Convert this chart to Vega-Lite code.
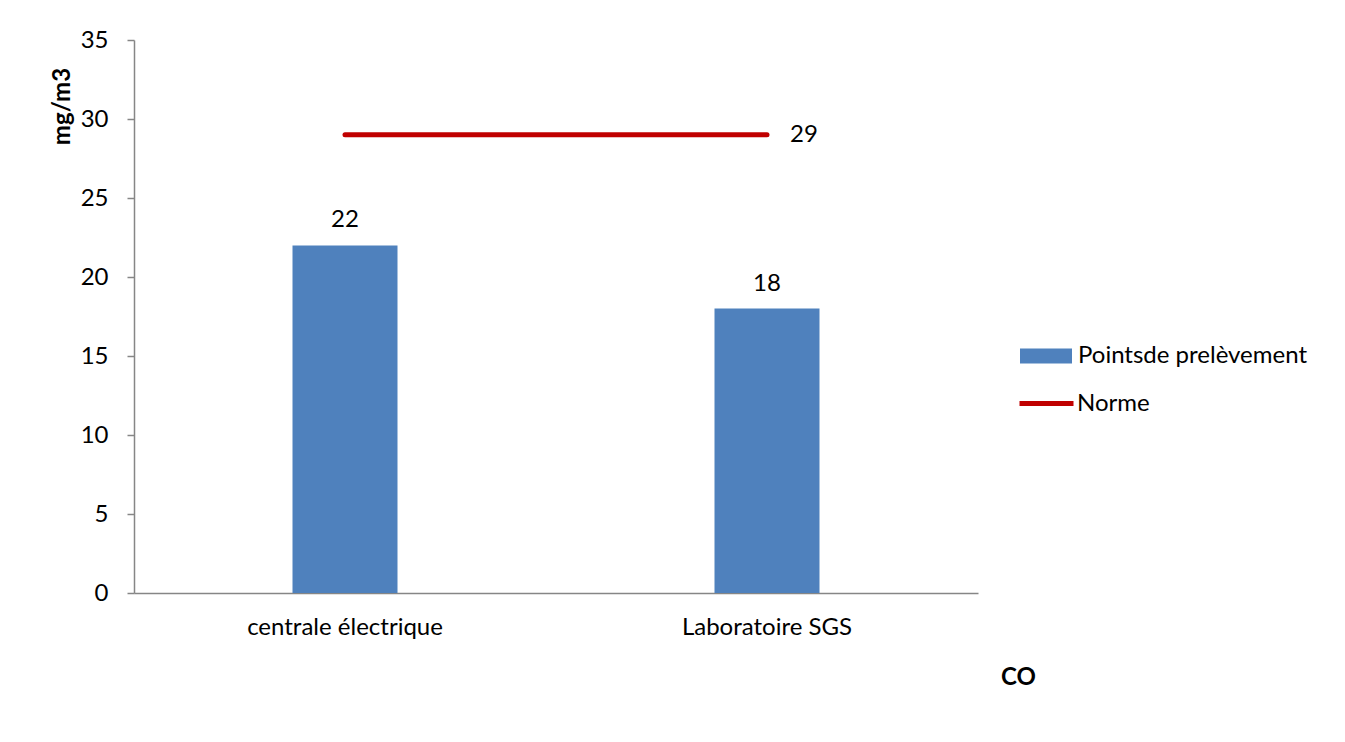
{
  "$schema": "https://vega.github.io/schema/vega-lite/v6.json",
  "width": 844,
  "height": 553,
  "autosize": {"type": "none"},
  "padding": {"left": 134, "top": 40, "right": 367, "bottom": 149},
  "background": "white",
  "config": {
    "font": "Lato",
    "view": {"stroke": null},
    "axis": {"labelColor": "#000000", "titleColor": "#000000", "labelFont": "Lato", "titleFont": "Lato"},
    "legend": {"labelFont": "Lato", "labelColor": "#000000", "labelLimit": 0}
  },
  "data": {
    "values": [
      {"site": "centrale électrique", "valeur": 22, "norme": 29, "serie": "Pointsde prelèvement", "serieNorme": "Norme"},
      {"site": "Laboratoire SGS", "valeur": 18, "norme": 29, "serie": "Pointsde prelèvement", "serieNorme": "Norme"}
    ]
  },
  "encoding": {
    "x": {
      "field": "site",
      "type": "nominal",
      "sort": null,
      "scale": {"paddingInner": 0, "paddingOuter": 0},
      "axis": {
        "title": "CO",
        "titleFontSize": 24,
        "titleFontWeight": "bold",
        "titleX": 884,
        "titleY": 84,
        "titleAlign": "center",
        "titleBaseline": "middle",
        "labelAngle": 0,
        "labelFontSize": 24,
        "labelLimit": 0,
        "labelPadding": 22,
        "ticks": false,
        "domainColor": "#868686",
        "domainWidth": 1.5
      }
    }
  },
  "layer": [
    {
      "mark": {"type": "bar", "size": 105},
      "encoding": {
        "y": {
          "field": "valeur",
          "type": "quantitative",
          "scale": {"domain": [0, 35], "nice": false},
          "axis": {
            "title": "mg/m3",
            "titleFontSize": 24,
            "titleFontWeight": "bold",
            "titleAngle": -90,
            "titleX": -72,
            "titleY": 66,
            "titleAlign": "center",
            "titleBaseline": "middle",
            "values": [0, 5, 10, 15, 20, 25, 30, 35],
            "grid": false,
            "labelFontSize": 24,
            "labelPadding": 19,
            "tickSize": 7,
            "tickColor": "#868686",
            "domainColor": "#868686",
            "domainWidth": 1.5,
            "tickWidth": 1.5
          }
        },
        "fill": {
          "field": "serie",
          "type": "nominal",
          "scale": {"range": ["#4F81BD"]},
          "legend": {
            "title": null,
            "orient": "none",
            "legendX": 886,
            "legendY": 290,
            "symbolType": "M-1,-0.29H1V0.29H-1Z",
            "symbolSize": 2704,
            "symbolStrokeWidth": 0,
            "labelFontSize": 24,
            "labelOffset": 6
          }
        }
      }
    },
    {
      "mark": {"type": "text", "fontSize": 24, "dy": -18, "baseline": "alphabetic", "color": "#000000"},
      "encoding": {
        "y": {"field": "valeur", "type": "quantitative"},
        "text": {"field": "valeur", "type": "quantitative"}
      }
    },
    {
      "mark": {"type": "line", "strokeWidth": 5, "strokeCap": "round"},
      "encoding": {
        "y": {"field": "norme", "type": "quantitative"},
        "stroke": {
          "field": "serieNorme",
          "type": "nominal",
          "scale": {"range": ["#C00000"]},
          "legend": {
            "title": null,
            "orient": "none",
            "legendX": 883,
            "legendY": 334,
            "symbolType": "stroke",
            "symbolSize": 2916,
            "symbolStrokeWidth": 5,
            "labelFontSize": 24,
            "labelOffset": 1
          }
        }
      }
    },
    {
      "transform": [{"filter": "datum.site === 'Laboratoire SGS'"}],
      "mark": {"type": "text", "fontSize": 24, "align": "left", "dx": 23, "baseline": "middle", "color": "#000000"},
      "encoding": {
        "y": {"field": "norme", "type": "quantitative"},
        "text": {"field": "norme", "type": "quantitative"}
      }
    }
  ]
}
